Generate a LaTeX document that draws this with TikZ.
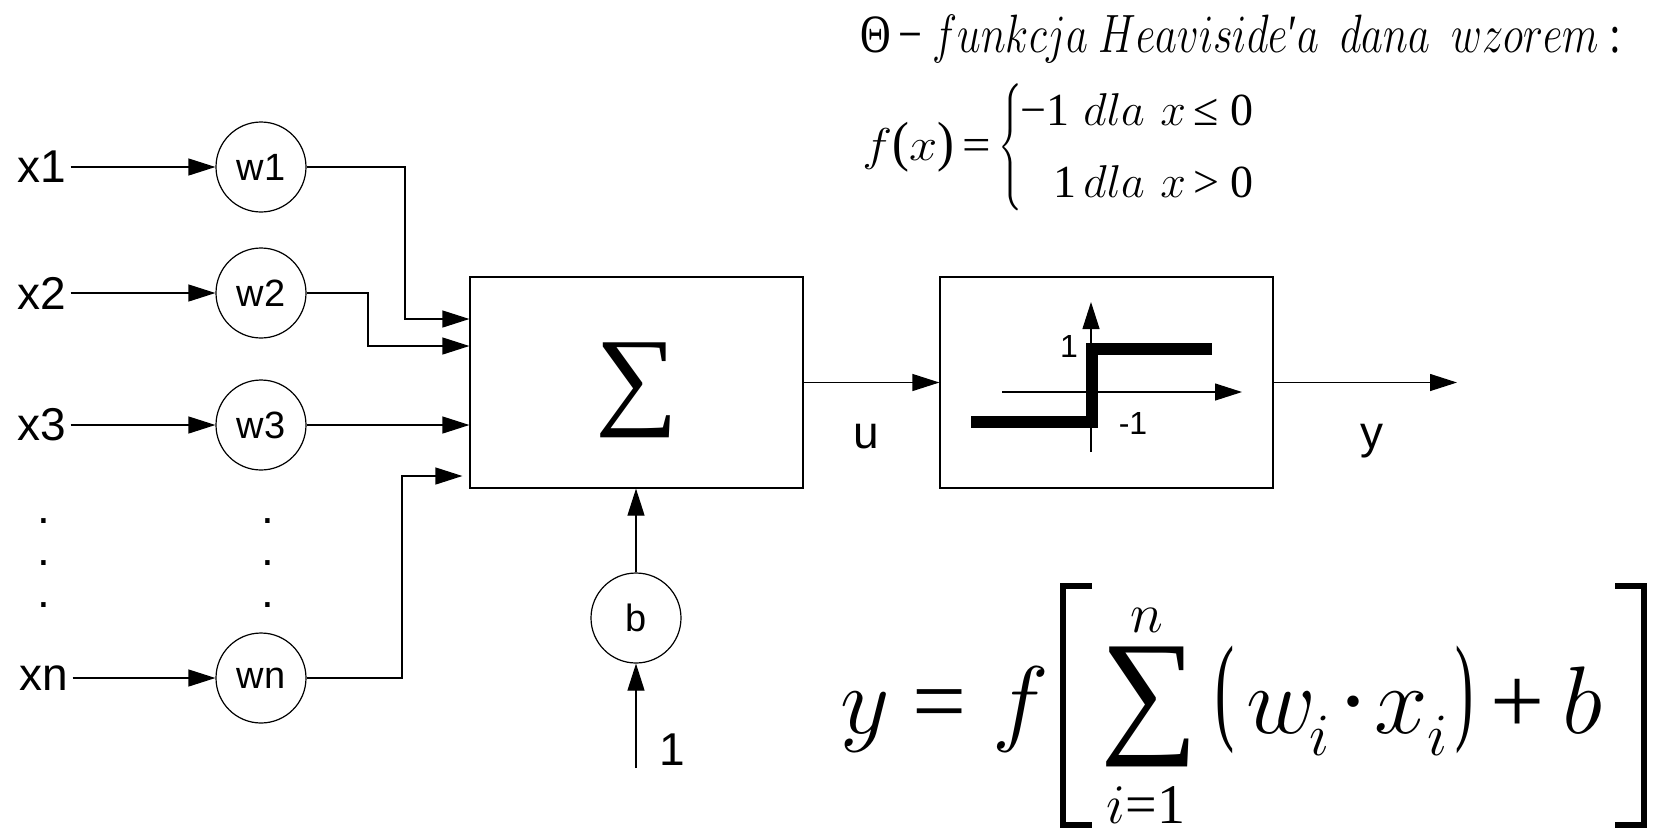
\documentclass[tikz,border=0pt]{standalone}
\usepackage{fix-cm}
\usepackage{fontspec}
\usepackage{graphicx}
\newfontfamily\arial{Liberation Sans}
\newfontfamily\tnr{Liberation Serif}
\usetikzlibrary{arrows.meta,calc}
\tikzset{
  ln/.style={line width=0.6pt},
  arr/.style={ln,-{Triangle[length=13.5pt,width=8.5pt]}},
  wnode/.style={circle,draw,ln,minimum size=45pt,inner sep=0pt,font=\arial\fontsize{19pt}{19pt}\selectfont},
  lbl/.style={inner sep=0pt,font=\arial\fontsize{23pt}{23pt}\selectfont},
  slbl/.style={inner sep=0pt,font=\arial\fontsize{16pt}{16pt}\selectfont},
  blk/.style={draw,ln,minimum width=166.5pt,minimum height=105.5pt,inner sep=0pt},
  tn/.style={inner sep=0pt,anchor=base west},
  hvh/.style={tn,font=\tnr\fontsize{27pt}{27pt}\selectfont},
  hv/.style={tn,font=\tnr\fontsize{23pt}{23pt}\selectfont},
  big/.style={tn,font=\tnr\fontsize{48pt}{48pt}\selectfont},
  lim/.style={inner sep=0pt,anchor=base,font=\tnr\fontsize{28pt}{28pt}\selectfont},
  sub/.style={tn,font=\tnr\fontsize{30pt}{30pt}\selectfont},
  brk/.style={line width=3pt,line cap=butt,line join=miter}
}
\begin{document}
\begin{tikzpicture}[x=0.5pt,y=-0.5pt]
\useasboundingbox (0,0) rectangle (1656,832);

% inputs
\node[lbl,inner xsep=2pt] (x1) at (42,167) {x1};
\node[lbl,inner xsep=2pt] (x2) at (42,293) {x2};
\node[lbl,inner xsep=2pt] (x3) at (42,425) {x3};
\node[lbl,inner xsep=2pt] (xn) at (44,678) {xn};
\node[lbl] (dl1) at (44,521) {.};
\node[lbl] (dl2) at (44,563) {.};
\node[lbl] (dl3) at (44,605) {.};
\node[lbl] (dr1) at (268,521) {.};
\node[lbl] (dr2) at (268,563) {.};
\node[lbl] (dr3) at (268,605) {.};

% weights
\node[wnode] (w1) at (261,167) {w1};
\node[wnode] (w2) at (261,293) {w2};
\node[wnode] (w3) at (261,425) {w3};
\node[wnode] (wn) at (261,678) {wn};
\draw[arr] (x1) -- (w1);
\draw[arr] (x2) -- (w2);
\draw[arr] (x3) -- (w3);
\draw[arr] (xn) -- (wn);

% blocks
\node[blk] (sum) at (636.5,382.5) {};
\node[inner sep=0pt] (sig) at (636.5,390.5) {\resizebox*{41.5pt}{47.5pt}{\tnr ∑}};
\node[blk] (act) at (1106.5,382.5) {};

\draw[arr] (w1.east) -| (405,319) -- (sum.west |- 0,319);
\draw[arr] (w2.east) -| (368,346) -- (sum.west |- 0,346);
\draw[arr] (w3) -- (sum.west |- w3);
\draw[arr] (wn.east) -| (402,476) -- ($(sum.west |- 0,476)+(-7,0)$);

% bias
\node[wnode] (b) at (636,618) {b};
\coordinate (bin) at (636,768);
\node[lbl,anchor=base] (one) at (672,765) {1};
\draw[arr] (bin) -- (b);
\draw[arr] (b) -- (b.north |- sum.south);

% sum -> activation -> output
\draw[arr] (sum) -- (act);
\node[lbl,anchor=base] (u) at (866,448) {u};
\coordinate (yout) at (1457,382.5);
\draw[arr] (act) -- (yout);
\node[lbl,anchor=base] (y) at (1372,448) {y};

% step function
\draw[arr] (1002,392) -- (1242,392);
\draw[arr] (1091,452) -- (1091,302);
\draw[line width=6pt,line join=miter] (971,422) -- (1092,422) -- (1092,349) -- (1212,349);
\node[slbl] (l1) at (1069,346) {1};
\node[slbl] (lm1) at (1133,423) {-1};

% Heaviside definition
\node[hvh] (head) at (860,52) {\resizebox{380.5pt}{\height}{Θ\,−\ $funkcja$\ $Heaviside$′$a$\ \ $dana$\ \ $wzorem$\ :}};
\node[hv] (fx) at (862,160) {\scalebox{1.1}[1]{$f$\scalebox{1}[1.2]{(}$x$\scalebox{1}[1.2]{)}\,=}};
\node[inner sep=0pt,anchor=north west] (brace) at (998,83) {\resizebox*{12pt}{63.5pt}{$\Biggl\{$}};
\node[hv] (r1) at (1020,125) {\makebox[31.5pt][l]{−1}\makebox[38.5pt][l]{$dla$}\makebox[16.5pt][l]{$x$}\makebox[18.5pt][l]{≤}0};
\node[hv] (r2) at (1053,197) {\makebox[15pt][l]{1}\makebox[38.5pt][l]{$dla$}\makebox[16.5pt][l]{$x$}\makebox[18.5pt][l]{>}0};

% big formula
\node[big] (fy) at (840,733) {$y$};
\node[big] (feq) at (912,733) {=};
\node[big] (ff) at (992,733) {$f$};
\draw[brk] (1092,586) -- (1063,586) -- (1063,825) -- (1092,825);
\node[inner sep=0pt,anchor=north west] (bsig) at (1100,647) {\resizebox*{49pt}{60pt}{\tnr ∑}};
\node[lim] (fn) at (1147,632) {$n$};
\node[lim] (fi1) at (1146,823) {$i$=1};
\node[inner sep=0pt,anchor=north west] (lp) at (1215,645) {\resizebox*{9.5pt}{54pt}{\tnr(}};
\node[big] (fw) at (1246,733) {$w$};
\node[sub] (fwi) at (1309,755) {$i$};
\node[big,anchor=base] (fdot) at (1353,733) {·};
\node[big] (fx2) at (1374,733) {$x$};
\node[sub] (fxi) at (1427,755) {$i$};
\node[inner sep=0pt,anchor=north west] (rp) at (1455,645) {\resizebox*{9pt}{54pt}{\tnr)}};
\node[big] (fplus) at (1490,733) {+};
\node[big] (fb) at (1562,733) {$b$};
\draw[brk] (1615,586) -- (1643.5,586) -- (1643.5,825) -- (1615,825);
\end{tikzpicture}
\end{document}
